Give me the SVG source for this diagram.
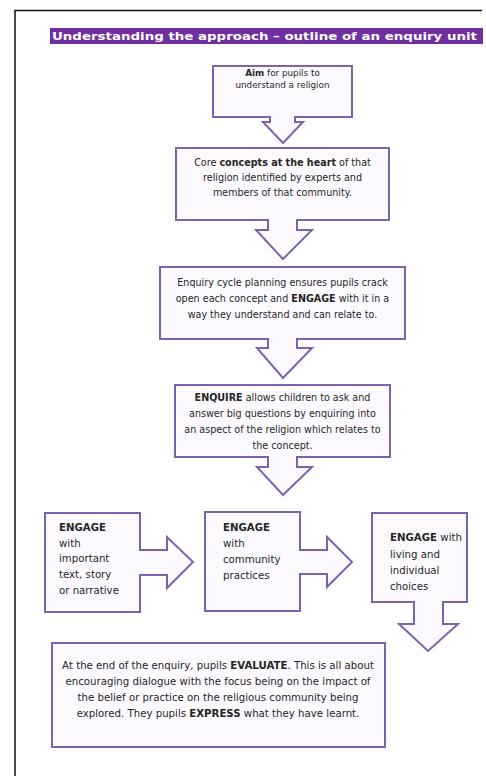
<svg xmlns="http://www.w3.org/2000/svg" width="486" height="776" viewBox="0 0 486 776">
<style>
.frame{fill:none;stroke:#111;stroke-width:1.5}
.box{fill:#fdfaff;stroke:#7d63ab;stroke-width:2}
.arr{fill:#fdfaff;stroke:#7d63ab;stroke-width:2;stroke-linejoin:miter}
text{font-family:"DejaVu Sans","Liberation Sans",sans-serif;font-size:9.6px;fill:#262626}
.c{text-anchor:middle}
.b{font-weight:bold}
.s{font-size:8.8px}
.m{font-size:10.2px}
.title{font-weight:bold;font-size:11px;fill:#ffffff}
</style>
<rect width="486" height="776" fill="#ffffff"/>
<g id="frame">
<path class="frame" d="M15,776 V10.5 H482"/>
</g>
<g id="title">
<rect x="50" y="28" width="433" height="16" fill="#7030a0"/>
<text class="title" x="52" y="40" textLength="425" lengthAdjust="spacingAndGlyphs">Understanding the approach – outline of an enquiry unit</text>
</g>
<g id="aim">
<rect class="box" x="213" y="66" width="139" height="51"/>
<text class="c s" x="282.5" y="76"><tspan class="b">Aim</tspan> for pupils to</text>
<text class="c s" x="282.5" y="88">understand a religion</text>
</g>
<g id="core">
<rect class="box" x="176" y="148" width="213" height="72"/>
<text class="c" x="282.5" y="166">Core <tspan class="b">concepts at the heart</tspan> of that</text>
<text class="c" x="282.5" y="181">religion identified by experts and</text>
<text class="c" x="282.5" y="196">members of that community.</text>
</g>
<g id="cycle">
<rect class="box" x="160" y="267" width="245" height="72"/>
<text class="c" x="282.5" y="286">Enquiry cycle planning ensures pupils crack</text>
<text class="c" x="282.5" y="302">open each concept and <tspan class="b">ENGAGE</tspan> with it in a</text>
<text class="c" x="282.5" y="318">way they understand and can relate to.</text>
</g>
<g id="enquire">
<rect class="box" x="175" y="385" width="215" height="72"/>
<text class="c" x="282.5" y="401"><tspan class="b">ENQUIRE</tspan> allows children to ask and</text>
<text class="c" x="282.5" y="417">answer big questions by enquiring into</text>
<text class="c" x="282.5" y="433">an aspect of the religion which relates to</text>
<text class="c" x="282.5" y="449">the concept.</text>
</g>
<g id="engage-text">
<rect class="box" x="45" y="513" width="95" height="99"/>
<text x="59" y="531" class="b m">ENGAGE</text>
<text x="59" y="547" class="m">with</text>
<text x="59" y="562" class="m">important</text>
<text x="59" y="578" class="m">text, story</text>
<text x="59" y="594" class="m">or narrative</text>
</g>
<g id="engage-community">
<rect class="box" x="205" y="512" width="95" height="99"/>
<text x="223" y="531" class="b m">ENGAGE</text>
<text x="223" y="547" class="m">with</text>
<text x="223" y="563" class="m">community</text>
<text x="223" y="579" class="m">practices</text>
</g>
<g id="engage-living">
<rect class="box" x="372" y="513" width="95" height="89"/>
<text x="390" y="541" class="m"><tspan class="b">ENGAGE</tspan> with</text>
<text x="390" y="558" class="m">living and</text>
<text x="390" y="574" class="m">individual</text>
<text x="390" y="590" class="m">choices</text>
</g>
<g id="evaluate">
<rect class="box" x="52" y="643" width="333" height="104"/>
<text class="c m" x="218" y="669">At the end of the enquiry, pupils <tspan class="b">EVALUATE</tspan>. This is all about</text>
<text class="c m" x="218" y="685">encouraging dialogue with the focus being on the impact of</text>
<text class="c m" x="218" y="701">the belief or practice on the religious community being</text>
<text class="c m" x="218" y="717">explored. They pupils <tspan class="b">EXPRESS</tspan> what they have learnt.</text>
</g>
<g id="connectors">
<polyline class="arr" points="270,116 270,122 263,122 283,143 303,122 295,122 295,116"/>
<polyline class="arr" points="268,219 268,230 256,230 283,259 312,230 297,230 297,219"/>
<polyline class="arr" points="268,338 268,348 257,348 283,378 312,348 297,348 297,338"/>
<polyline class="arr" points="268,456 268,467 257,467 283,495 312,467 297,467 297,456"/>
<polyline class="arr" points="139,550 167,550 167,537 193,562 167,588 167,575 139,575"/>
<polyline class="arr" points="299,550 327,550 327,537 352,562 327,587 327,574 299,574"/>
<polyline class="arr" points="414,601 414,624 399,624 428,651 458,624 443,624 443,601"/>
</g>
</svg>
